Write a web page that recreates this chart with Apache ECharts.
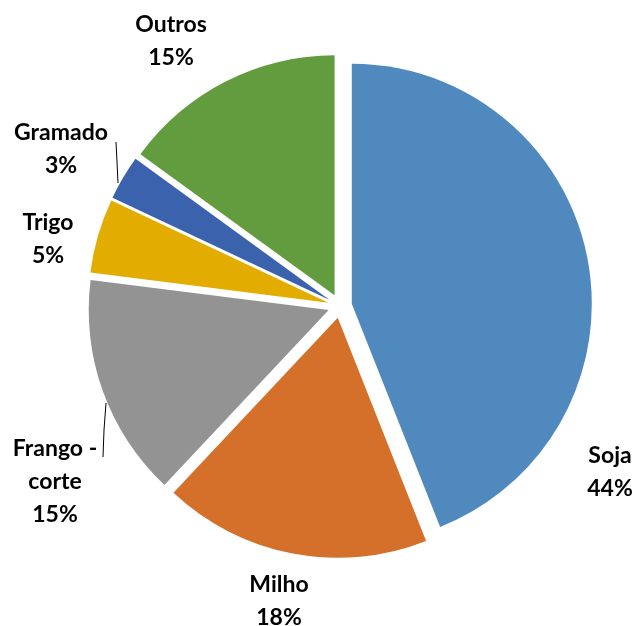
<!DOCTYPE html>
<html>
<head>
<meta charset="utf-8">
<script src="https://cdn.jsdelivr.net/npm/echarts@6/dist/echarts.min.js"></script>
<style>
  html, body { margin: 0; padding: 0; background: #fff; }
  #chart { width: 638px; height: 626px; }
</style>
</head>
<body>
<div id="chart"></div>
<script>
// dados do gráfico (participação %)
const categories = ['Soja', 'Milho', 'Frango - corte', 'Trigo', 'Gramado', 'Outros'];
const values = [44, 18, 15, 5, 3, 15];

// cores das fatias
const colors = ['#4f89bd', '#d5702b', '#939393', '#e3ac00', '#3b63ad', '#629c3f'];
// posição (centro) de cada rótulo e linhas guia
const labelPos = [[610, 472], [279, 601], [55, 482], [48, 239], [61, 149], [171, 41]];
const guideLines = {
  2: [[106, 403], [104, 430], [103, 457]],
  4: [[118, 183], [117, 162], [116, 142]]
};

const chart = echarts.init(document.getElementById('chart'));

const option = {
  animation: false,
  series: [
    // fatias destacadas
    {
      type: 'pie',
      center: [340, 306],
      radius: 240,
      startAngle: 90,
      clockwise: true,
      selectedMode: 'multiple',
      selectedOffset: 12,
      label: { show: false },
      labelLine: { show: false },
      data: categories.map((name, i) => ({
        name: name,
        value: values[i],
        selected: true,
        itemStyle: { color: colors[i] }
      }))
    },
    // série invisível só para os rótulos
    {
      type: 'pie',
      center: [340, 306],
      radius: 240,
      startAngle: 90,
      clockwise: true,
      silent: true,
      itemStyle: { color: 'rgba(0,0,0,0)' },
      label: {
        show: true,
        position: 'outside',
        overflow: 'none',
        alignTo: 'none',
        formatter: p => '{t|' + p.name.replace(' - ', ' -\n') + '}\n{t|' + p.percent.toFixed(0) + '%}',
        rich: {
          t: {
            fontFamily: 'Lato',
            fontWeight: 'bold',
            fontSize: 23,
            lineHeight: 33,
            color: '#000',
            align: 'center'
          }
        }
      },
      labelLine: {
        show: false,
        lineStyle: { color: '#000', width: 1 }
      },
      labelLayout: function (params) {
        const i = params.dataIndex;
        const out = {
          x: labelPos[i][0],
          y: labelPos[i][1],
          align: 'center',
          verticalAlign: 'middle'
        };
        if (guideLines[i]) out.labelLinePoints = guideLines[i];
        return out;
      },
      data: categories.map((name, i) => ({
        name: name,
        value: values[i],
        labelLine: { show: !!guideLines[i] }
      }))
    }
  ]
};

chart.setOption(option);
</script>
</body>
</html>
